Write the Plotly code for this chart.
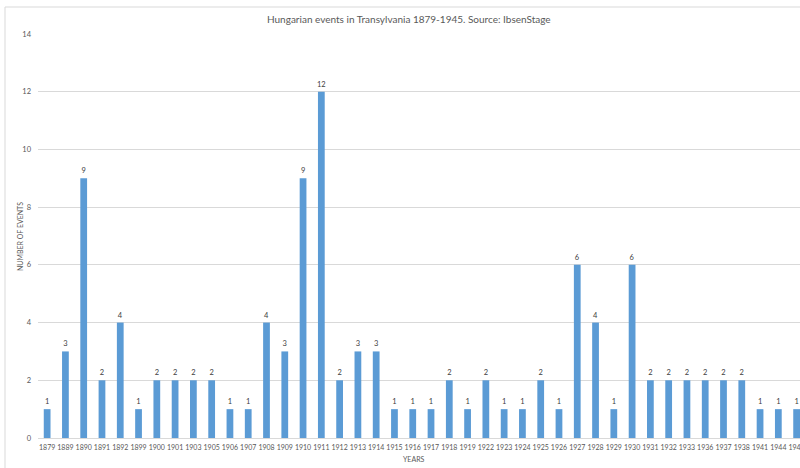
import plotly.graph_objects as go

years = ["1879", "1889", "1890", "1891", "1892", "1899", "1900", "1901", "1903", "1905",
         "1906", "1907", "1908", "1909", "1910", "1911", "1912", "1913", "1914", "1915",
         "1916", "1917", "1918", "1919", "1922", "1923", "1924", "1925", "1926", "1927",
         "1928", "1929", "1930", "1931", "1932", "1933", "1936", "1937", "1938", "1941",
         "1944", "1945"]
events = [1, 3, 9, 2, 4, 1, 2, 2, 2, 2,
          1, 1, 4, 3, 9, 12, 2, 3, 3, 1,
          1, 1, 2, 1, 2, 1, 1, 2, 1, 6,
          4, 1, 6, 2, 2, 2, 2, 2, 2, 1,
          1, 1]
y_ticks = [0, 2, 4, 6, 8, 10, 12, 14]

W, H = 800, 468
ML, MR, MT, MB = 38, 0, 34, 30
pw = W - ML - MR
ph = H - MT - MB


def px_x(x):
    return (x - ML) / pw


def px_y(y):
    return (H - MB - y) / ph


font = "Lato"
grey = "#595959"

fig = go.Figure(go.Bar(
    x=years, y=events,
    marker=dict(color="#5B9BD5", line=dict(width=0)),
    text=[str(v) for v in events],
    textposition="outside",
    constraintext="none",
    textfont=dict(family=font, size=7.5, color="#404040"),
    cliponaxis=False,
))

fig.update_layout(
    width=W, height=H,
    margin=dict(l=ML, r=MR, t=MT, b=MB, autoexpand=False),
    paper_bgcolor="white", plot_bgcolor="white",
    bargap=0.63,
    showlegend=False,
    uniformtext=dict(minsize=7.5, mode="show"),
    xaxis=dict(
        type="category",
        range=[-0.5, -0.5 + pw / 18.28],
        showgrid=False, zeroline=False, showline=False,
        ticks="", tickangle=0, automargin=False,
        tickfont=dict(family=font, size=7, color=grey),
        ticklabelstandoff=4,
    ),
    yaxis=dict(
        range=[0, 14], tickvals=y_ticks, automargin=False,
        showgrid=True, gridcolor="#d9d9d9", gridwidth=1,
        zeroline=True, zerolinecolor="#d9d9d9", zerolinewidth=1,
        showline=False, ticks="",
        tickfont=dict(family=font, size=7.5, color=grey),
        ticklabelstandoff=6,
    ),
    annotations=[
        dict(text="Hungarian events in Transylvania 1879-1945. Source: IbsenStage",
             xref="paper", yref="paper", x=px_x(409), y=px_y(19),
             xanchor="center", yanchor="middle", showarrow=False,
             font=dict(family=font, size=10, color=grey)),
        dict(text="NUMBER OF EVENTS", textangle=-90,
             xref="paper", yref="paper", x=px_x(20), y=px_y(237),
             xanchor="center", yanchor="middle", showarrow=False,
             font=dict(family=font, size=7, color=grey)),
        dict(text="YEARS",
             xref="paper", yref="paper", x=px_x(414), y=px_y(459),
             xanchor="center", yanchor="middle", showarrow=False,
             font=dict(family=font, size=7, color=grey)),
    ],
    shapes=[
        dict(type="line", xref="paper", yref="paper",
             x0=px_x(5), x1=px_x(W + 5), y0=px_y(7), y1=px_y(7),
             line=dict(color="#d9d9d9", width=1)),
        dict(type="line", xref="paper", yref="paper",
             x0=px_x(5), x1=px_x(5), y0=px_y(7), y1=px_y(H + 5),
             line=dict(color="#d9d9d9", width=1)),
    ],
)

fig.write_html("out.html")
